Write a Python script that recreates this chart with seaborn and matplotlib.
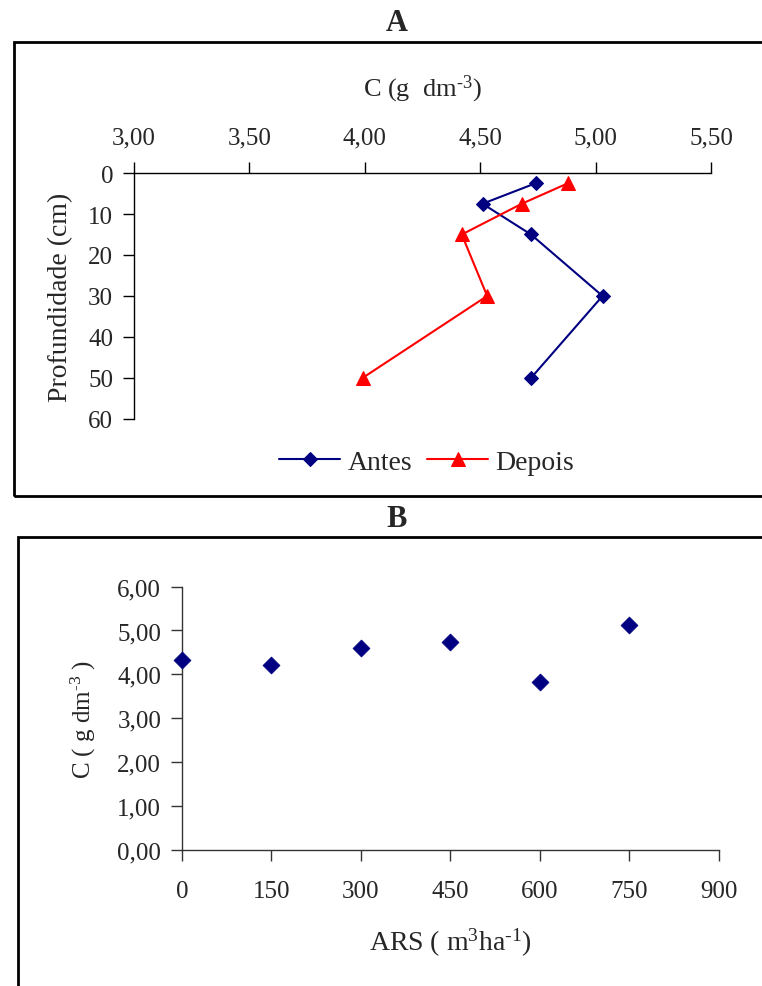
import numpy as np
import pandas as pd
import matplotlib
matplotlib.use('Agg')
import matplotlib.pyplot as plt
from matplotlib.patches import Rectangle
from matplotlib.ticker import FuncFormatter, MultipleLocator
import seaborn as sns

# Panel A: carbon profile before / after
depth = [2.5, 7.5, 15, 30, 50]
c_antes = [4.74, 4.51, 4.72, 5.03, 4.72]
c_depois = [4.88, 4.68, 4.42, 4.53, 3.99]

# Panel B: carbon vs ARS dose
ars = [0, 150, 300, 450, 600, 750]
c_ars = [4.33, 4.21, 4.60, 4.73, 3.83, 5.13]

navy = '#000080'
red = '#FF0000'

sns.set_style('white')
plt.rcParams['font.family'] = ['Liberation Serif', 'DejaVu Serif']
plt.rcParams['mathtext.fontset'] = 'custom'
plt.rcParams['mathtext.rm'] = 'Liberation Serif'
plt.rcParams['mathtext.it'] = 'Liberation Serif:italic'
plt.rcParams['mathtext.bf'] = 'Liberation Serif:bold'

fs = 18
comma = FuncFormatter(lambda v, p: f'{v:.2f}'.replace('.', ','))

fig = plt.figure(figsize=(7.62, 9.87), dpi=100)

# frames around each panel (cut by the figure edge as in the source)
fig.patches.append(Rectangle((0.018, 0.4965), 1.1, 0.9567 - 0.4965, transform=fig.transFigure,
                             fill=False, edgecolor='black', lw=2.0, clip_on=False))
fig.patches.append(Rectangle((0.0236, -0.1), 1.1, 0.4552 + 0.1, transform=fig.transFigure,
                             fill=False, edgecolor='black', lw=2.0, clip_on=False))

fig.text(0.521, 0.9757, 'A', ha='center', va='center', fontsize=22, fontweight='bold')
fig.text(0.520, 0.4732, 'B', ha='center', va='center', fontsize=22, fontweight='bold')

# ---- Panel A ----
axA = fig.add_axes([0.1759, 0.5745, 0.7572, 0.2492])
dfA = pd.DataFrame({'depth': depth, 'antes': c_antes, 'depois': c_depois})
sns.lineplot(data=dfA, x='antes', y='depth', sort=False, estimator=None, ax=axA,
             color=navy, lw=1.5, marker='D', markersize=7.6, markeredgecolor=navy, label='Antes')
sns.lineplot(data=dfA, x='depois', y='depth', sort=False, estimator=None, ax=axA,
             color=red, lw=1.5, marker='^', markersize=10, markeredgecolor=red, label='Depois')
axA.set_xlim(3.0, 5.5)
axA.set_ylim(60, 0)
axA.xaxis.tick_top()
axA.xaxis.set_label_position('top')
axA.xaxis.set_major_locator(MultipleLocator(0.5))
axA.yaxis.set_major_locator(MultipleLocator(10))
axA.xaxis.set_major_formatter(comma)
axA.yaxis.set_major_formatter(FuncFormatter(lambda v, p: f'{v:.0f}'))
for s in ['right', 'bottom']:
    axA.spines[s].set_visible(False)
for s in ['top', 'left']:
    axA.spines[s].set_color('black')
    axA.spines[s].set_linewidth(1.0)
axA.tick_params(axis='x', which='major', top=True, bottom=False, direction='out',
                length=8, width=1, color='black', labelsize=fs, pad=10)
axA.tick_params(axis='y', which='major', left=True, direction='out',
                length=8, width=1, color='black', labelsize=fs, pad=7)
axA.set_xlabel(r'C (g  dm$^{\text{-3}}$)', fontsize=19, labelpad=22)
axA.set_ylabel('Profundidade (cm)', fontsize=20, labelpad=11)
axA.legend_.remove()
h, l = axA.get_legend_handles_labels()
fig.legend(h, l, loc='center', bbox_to_anchor=(0.560, 0.531), ncol=2, frameon=False,
           fontsize=20, handlelength=2.2, handletextpad=0.25, columnspacing=0.55)

# ---- Panel B ----
axB = fig.add_axes([0.2388, 0.1381, 0.7047, 0.2665])
dfB = pd.DataFrame({'ars': ars, 'c': c_ars})
sns.scatterplot(data=dfB, x='ars', y='c', ax=axB, color=navy, marker='D', s=75,
                edgecolor=navy, linewidth=0.5, zorder=3, clip_on=False)
axB.set_xlim(0, 900)
axB.set_ylim(0, 6)
axB.xaxis.set_major_locator(MultipleLocator(150))
axB.yaxis.set_major_locator(MultipleLocator(1))
axB.yaxis.set_major_formatter(comma)
for s in ['right', 'top']:
    axB.spines[s].set_visible(False)
for s in ['bottom', 'left']:
    axB.spines[s].set_color('#333333')
    axB.spines[s].set_linewidth(1.0)
axB.tick_params(axis='x', bottom=True, direction='out', length=8, width=1,
                color='#333333', labelsize=fs, pad=14)
axB.tick_params(axis='y', left=True, direction='out', length=8, width=1,
                color='#333333', labelsize=fs, pad=7)
axB.set_xlabel(r'ARS ( m$^{\text{3}}$ha$^{\text{-1}}$)', fontsize=20, labelpad=17)
axB.set_ylabel(r'C ( g dm$^{\text{-3}}$ )', fontsize=18, labelpad=14)

fig.savefig('out.png', dpi=100)
